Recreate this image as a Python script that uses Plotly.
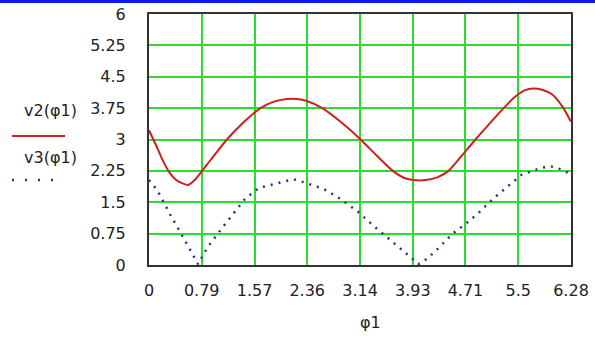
import plotly.graph_objects as go

# ---- data ----
v2_x = [0.0, 0.10, 0.20, 0.30, 0.40, 0.50, 0.58, 0.68, 0.79, 0.97, 1.16, 1.40, 1.66, 1.85,
        2.05, 2.20, 2.35, 2.58, 2.87, 3.15, 3.40, 3.63, 3.80, 3.95, 4.12, 4.30, 4.46, 4.66,
        4.86, 5.07, 5.28, 5.45, 5.60, 5.72, 5.85, 6.00, 6.17, 6.28]
v2_y = [3.22, 2.88, 2.52, 2.22, 2.04, 1.95, 1.91, 2.03, 2.25, 2.62, 3.00, 3.40, 3.75, 3.90,
        3.97, 3.97, 3.92, 3.75, 3.40, 3.00, 2.60, 2.25, 2.08, 2.03, 2.03, 2.10, 2.25, 2.62,
        3.00, 3.38, 3.75, 4.02, 4.18, 4.22, 4.19, 4.08, 3.75, 3.43]

v3_x = [0.0, 0.13, 0.31, 0.43, 0.58, 0.73, 0.87, 1.09, 1.28, 1.43, 1.63, 1.93, 2.15, 2.30,
        2.60, 2.85, 3.10, 3.34, 3.52, 3.72, 3.90, 4.01, 4.14, 4.27, 4.52, 4.72, 4.91, 5.12,
        5.34, 5.54, 5.83, 5.98, 6.13, 6.28]
v3_y = [2.03, 1.77, 1.22, 0.89, 0.46, 0.02, 0.42, 0.89, 1.29, 1.58, 1.84, 1.96, 2.05, 1.98,
        1.82, 1.58, 1.29, 0.94, 0.70, 0.42, 0.18, 0.02, 0.15, 0.34, 0.75, 0.99, 1.25, 1.58,
        1.89, 2.15, 2.32, 2.36, 2.29, 2.17]

x_tick_vals = [0, 0.785, 1.571, 2.356, 3.142, 3.927, 4.712, 5.498, 6.283]
x_tick_text = ["0", "0.79", "1.57", "2.36", "3.14", "3.93", "4.71", "5.5", "6.28"]
y_tick_vals = [0, 0.75, 1.5, 2.25, 3, 3.75, 4.5, 5.25, 6]
y_tick_text = ["0", "0.75", "1.5", "2.25", "3", "3.75", "4.5", "5.25", "6"]

series_names = ["v2(φ1)", "v3(φ1)"]
x_title = "φ1"

RED = "#cc2020"
BLUE = "#2c2c8e"
GRID = "#2edc2e"
FONT = dict(family="DejaVu Sans", size=16, color="#222222")

fig = go.Figure()
fig.add_trace(go.Scatter(x=v2_x, y=v2_y, mode="lines", name=series_names[0],
                         line=dict(color=RED, width=2, shape="spline", smoothing=0.6)))
fig.add_trace(go.Scatter(x=v3_x, y=v3_y, mode="lines", name=series_names[1],
                         line=dict(color=BLUE, width=2.5, dash="2px,6px")))

L, R, T, B = 149, 24, 14, 73
W, H = 595, 338
pw, ph = W - L - R, H - T - B


def px2x(px):
    return (px - L) / pw


def py2y(py):
    return (H - B - py) / ph


fig.update_layout(
    width=W, height=H,
    margin=dict(l=L, r=R, t=T, b=B, pad=0, autoexpand=False),
    paper_bgcolor="white", plot_bgcolor="white",
    showlegend=False,
    font=FONT,
    xaxis=dict(range=[0, 6.283], tickvals=x_tick_vals, ticktext=x_tick_text,
               showgrid=True, gridcolor=GRID, gridwidth=2, zeroline=False,
               showline=True, mirror=True, linecolor="#333333", linewidth=2,
               ticks="", ticklabelstandoff=10, tickfont=FONT, automargin=False),
    yaxis=dict(range=[0, 6], tickvals=y_tick_vals, ticktext=y_tick_text,
               showgrid=True, gridcolor=GRID, gridwidth=2, zeroline=False,
               showline=True, mirror=True, linecolor="#333333", linewidth=2,
               ticks="", ticklabelstandoff=18, tickfont=FONT, automargin=False),
    shapes=[
        dict(type="rect", xref="paper", yref="paper", x0=px2x(-5), x1=px2x(W + 5),
             y0=py2y(3), y1=py2y(-2), fillcolor="#0818f0", line=dict(width=0), layer="above"),
        dict(type="line", xref="paper", yref="paper", x0=px2x(12), x1=px2x(65),
             y0=py2y(136), y1=py2y(136), line=dict(color=RED, width=2)),
        dict(type="line", xref="paper", yref="paper", x0=px2x(12), x1=px2x(56),
             y0=py2y(180), y1=py2y(180), line=dict(color=BLUE, width=2.5, dash="2px,11px")),
    ],
    annotations=[
        dict(text=series_names[0], xref="paper", yref="paper", x=px2x(50), y=py2y(110),
             xanchor="center", yanchor="middle", showarrow=False, font=FONT),
        dict(text=series_names[1], xref="paper", yref="paper", x=px2x(50), y=py2y(158),
             xanchor="center", yanchor="middle", showarrow=False, font=FONT),
        dict(text=x_title, xref="paper", yref="paper", x=px2x(370), y=py2y(322),
             xanchor="center", yanchor="middle", showarrow=False, font=FONT),
    ],
)

fig.write_html("out.html", config={"displayModeBar": False},
               post_script="document.body.style.margin='0';document.body.style.overflow='hidden';")
